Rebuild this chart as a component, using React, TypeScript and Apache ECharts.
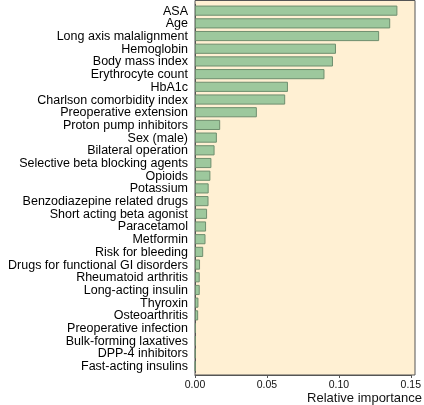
import React, { useEffect, useRef } from "react";
import * as echarts from "echarts";

// Predictors, ordered from most to least important
const categories: string[] = [
  "ASA",
  "Age",
  "Long axis malalignment",
  "Hemoglobin",
  "Body mass index",
  "Erythrocyte count",
  "HbA1c",
  "Charlson comorbidity index",
  "Preoperative extension",
  "Proton pump inhibitors",
  "Sex (male)",
  "Bilateral operation",
  "Selective beta blocking agents",
  "Opioids",
  "Potassium",
  "Benzodiazepine related drugs",
  "Short acting beta agonist",
  "Paracetamol",
  "Metformin",
  "Risk for bleeding",
  "Drugs for functional GI disorders",
  "Rheumatoid arthritis",
  "Long-acting insulin",
  "Thyroxin",
  "Osteoarthritis",
  "Preoperative infection",
  "Bulk-forming laxatives",
  "DPP-4 inhibitors",
  "Fast-acting insulins",
];

// Relative importance of each predictor
const importance: number[] = [
  0.1407, 0.1357, 0.128, 0.098, 0.0959, 0.09, 0.0646, 0.0627, 0.043, 0.0175,
  0.0152, 0.0136, 0.0114, 0.0107, 0.0095, 0.0094, 0.0084, 0.0077, 0.0073,
  0.0057, 0.0035, 0.0033, 0.0033, 0.0024, 0.0022, 0.0006, 0.0005, 0.0004,
  0.0003,
];

// x-axis range and step
const xMin = 0;
const xMax = 0.15;
const xStep = 0.05;

const axisTitle = "Relative importance";

const FONT = "'Liberation Sans', Arial, Helvetica, sans-serif";

export default function App() {
  const ref = useRef<HTMLDivElement>(null);

  useEffect(() => {
    if (!ref.current) return;
    const chart = echarts.init(ref.current, undefined, { renderer: "svg" });

    chart.setOption({
      animation: false,
      textStyle: { fontFamily: FONT },
      grid: {
        left: 195,
        right: 9,
        top: 4.3,
        height: 368.2,
        containLabel: false,
      },
      graphic: [
        {
          type: "rect",
          z: -10,
          silent: true,
          shape: { x: 195, y: 0.5, width: 220, height: 374.5 },
          style: { fill: "#fff0d3", stroke: "#555555", lineWidth: 1 },
        },
        {
          type: "text",
          right: 2,
          top: 391,
          style: {
            text: axisTitle,
            font: `13px ${FONT}`,
            fill: "#111111",
          },
        },
      ],
      xAxis: {
        type: "value",
        min: xMin,
        max: xMax,
        interval: xStep,
        offset: 2.5,
        splitLine: { show: false },
        axisLine: { show: true, lineStyle: { color: "#555555", width: 1 } },
        axisTick: {
          show: true,
          length: 3,
          lineStyle: { color: "#555555" },
        },
        axisLabel: {
          margin: 4,
          fontSize: 10.5,
          lineHeight: 10,
          color: "#111111",
          fontFamily: FONT,
          formatter: (v: number) => v.toFixed(2),
        },
      },
      yAxis: {
        type: "category",
        data: categories,
        inverse: true,
        axisLine: { show: true, lineStyle: { color: "#555555", width: 1 } },
        axisTick: { show: false },
        axisLabel: {
          margin: 7,
          fontSize: 12.5,
          lineHeight: 12,
          color: "#000000",
          fontFamily: FONT,
          interval: 0,
        },
      },
      series: [
        {
          type: "bar",
          data: importance,
          barCategoryGap: "20%",
          itemStyle: {
            color: "#9dc89d",
            borderColor: "#6e8e6e",
            borderWidth: 1,
          },
        },
      ],
    });

    return () => chart.dispose();
  }, []);

  return (
    <div
      ref={ref}
      style={{ position: "fixed", left: 0, top: 0, width: 424, height: 405 }}
    />
  );
}
